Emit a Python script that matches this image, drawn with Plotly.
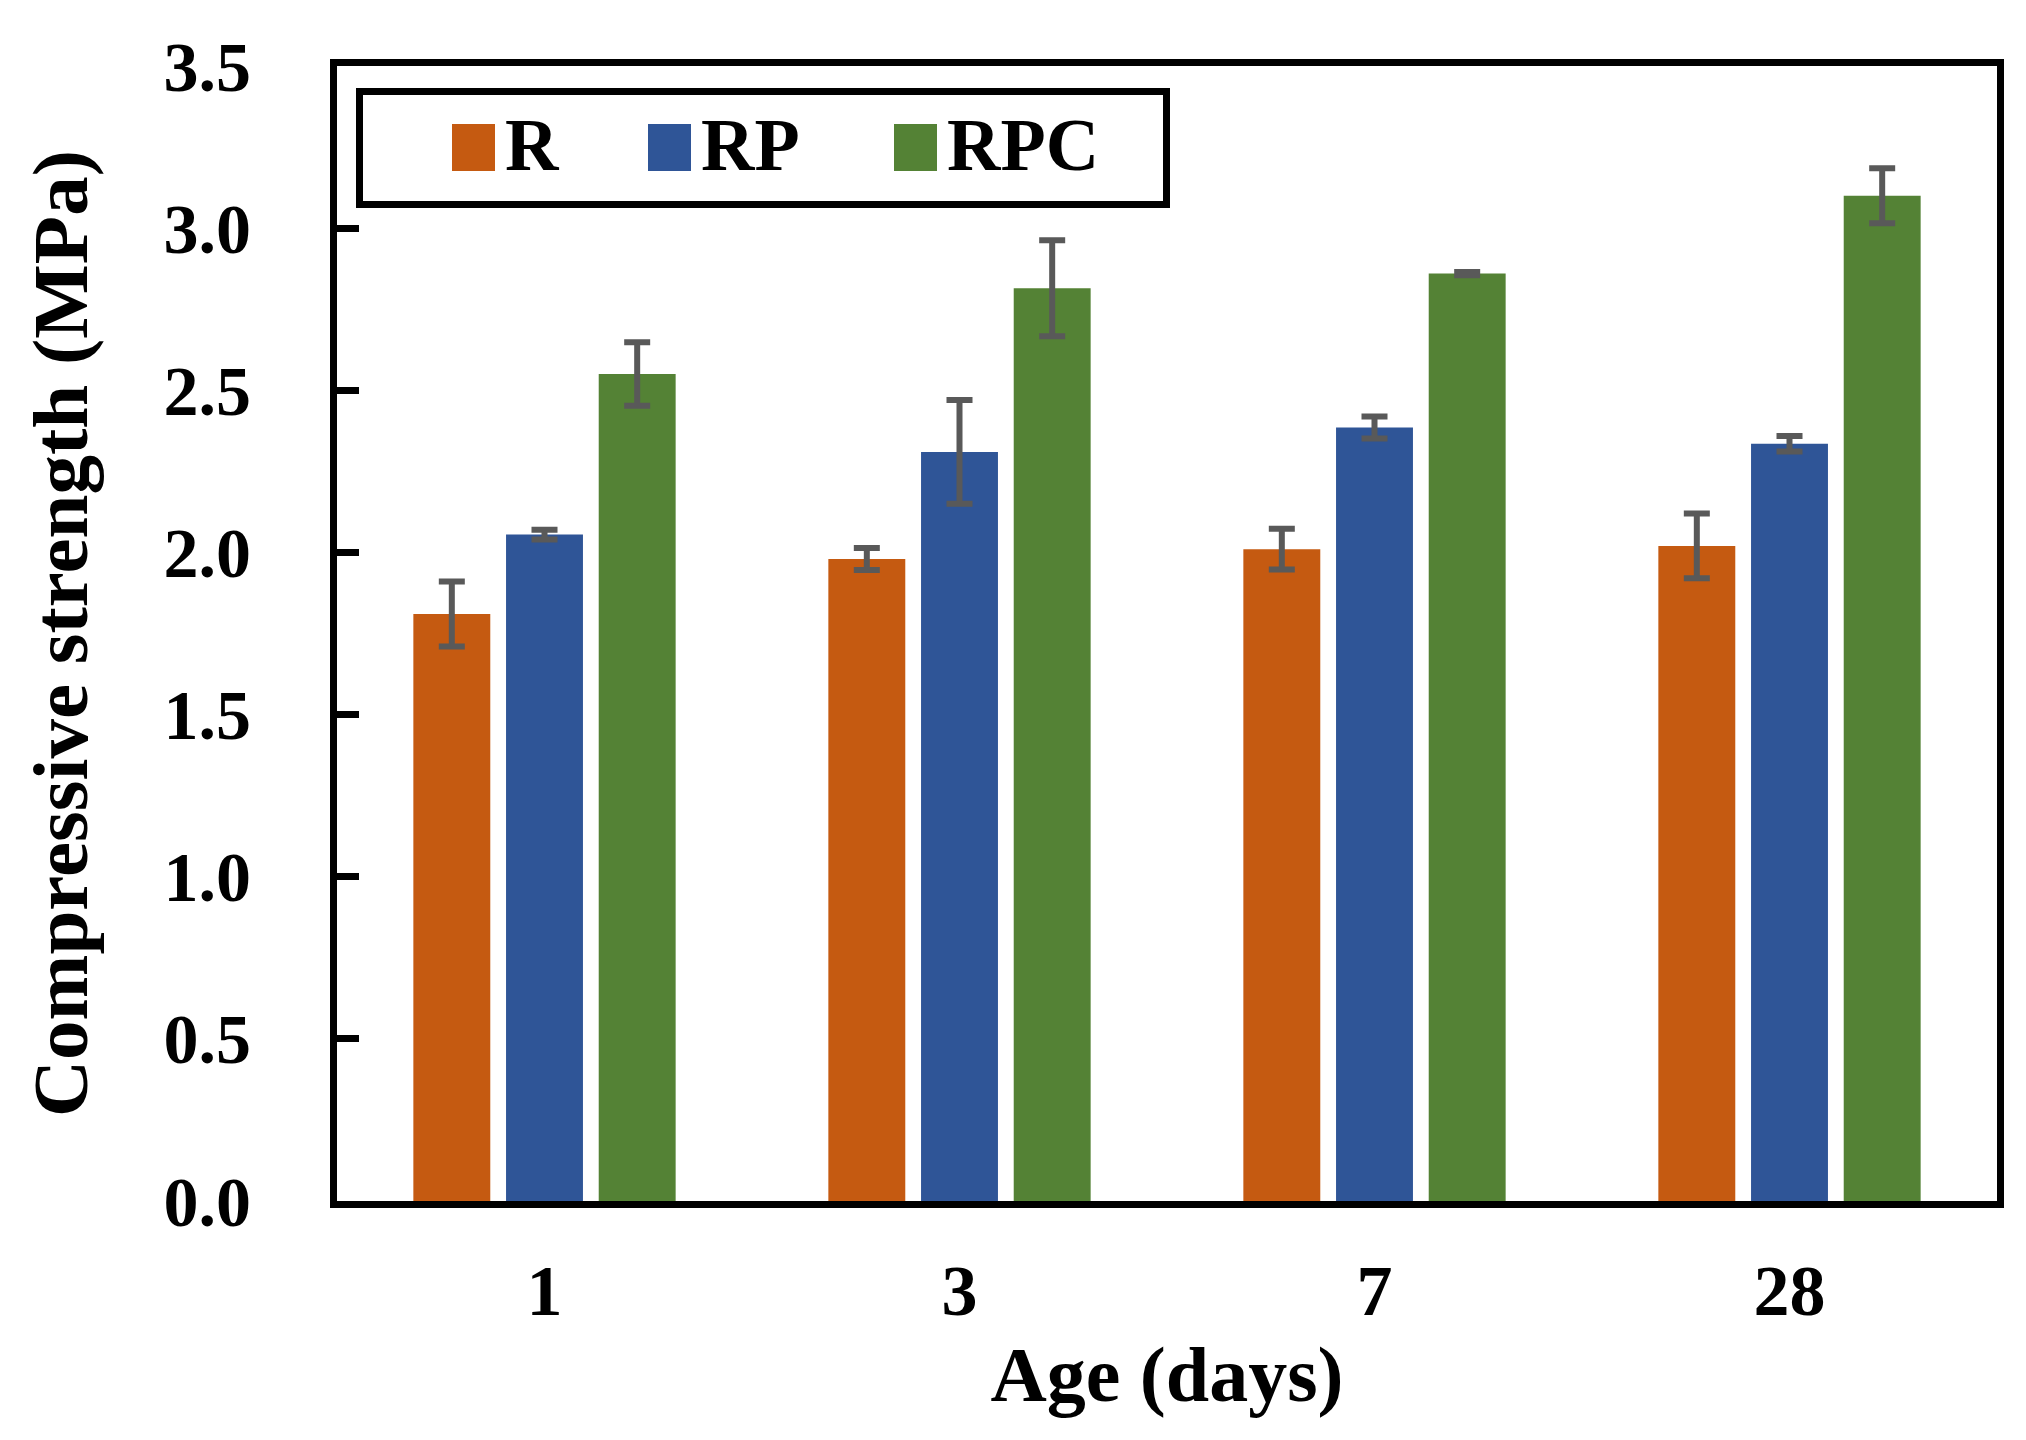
import plotly.graph_objects as go

# ---- data ----
ages = ["1", "3", "7", "28"]
series_names = ["R", "RP", "RPC"]
r_vals = [1.81, 1.98, 2.01, 2.02]
r_err = [0.10, 0.034, 0.063, 0.10]
rp_vals = [2.055, 2.31, 2.385, 2.335]
rp_err = [0.015, 0.16, 0.034, 0.024]
rpc_vals = [2.55, 2.815, 2.86, 3.10]
rpc_err = [0.098, 0.148, 0.005, 0.085]
y_ticks = [0.0, 0.5, 1.0, 1.5, 2.0, 2.5, 3.0, 3.5]

colors = ["#C55A11", "#2F5597", "#548235"]
err_color = "#595959"
FONT = "Liberation Serif"

W, H = 2026, 1440
L, R, T, B = 329, 37, 58, 247
PW, PH = W - L - R, H - T - B

fig = go.Figure()
for name, vals, errs, col in zip(series_names, [r_vals, rp_vals, rpc_vals],
                                 [r_err, rp_err, rpc_err], colors):
    fig.add_trace(go.Bar(
        x=ages, y=vals, name=name, marker_color=col, marker_line_width=0,
        error_y=dict(type="data", array=errs, visible=True, color=err_color,
                     thickness=6, width=13),
        showlegend=False,
    ))

def px_x(p):
    return (p - L) / PW

def px_y(p):
    return (H - B - p) / PH

shapes = []
annotations = []
# legend frame
shapes.append(dict(type="rect", xref="paper", yref="paper",
                   x0=px_x(351.5), x1=px_x(1158.5), y0=px_y(196.5), y1=px_y(83.5),
                   line=dict(color="black", width=7), fillcolor="white", layer="above"))
sw_left = [444, 640, 886]
for name, col, sx in zip(series_names, colors, sw_left):
    shapes.append(dict(type="rect", xref="paper", yref="paper",
                       x0=px_x(sx), x1=px_x(sx + 43), y0=px_y(163), y1=px_y(116),
                       line=dict(width=0), fillcolor=col, layer="above"))
    annotations.append(dict(xref="paper", yref="paper", x=px_x(sx + 51), y=px_y(137),
                            xanchor="left", yanchor="middle", text=name, showarrow=False,
                            font=dict(family=FONT, size=74, color="black", weight="bold")))

fig.update_layout(
    width=W, height=H,
    margin=dict(l=L, r=R, t=T, b=B, autoexpand=False),
    paper_bgcolor="white", plot_bgcolor="white",
    barmode="group", bargap=0.33, bargroupgap=0.17,
    font=dict(family=FONT, color="black"),
    shapes=shapes, annotations=annotations,
    xaxis=dict(
        showline=True, linecolor="black", linewidth=7, mirror=True,
        ticks="", showgrid=False, zeroline=False,
        tickfont=dict(family=FONT, size=72, color="black", weight="bold"),
        ticklabelstandoff=21,
        title=dict(text="<b>Age (days)</b>", standoff=18,
                   font=dict(family=FONT, size=78, color="black")),
    ),
    yaxis=dict(
        range=[0, 3.5], tickvals=y_ticks,
        ticktext=[f"{v:.1f}" for v in y_ticks],
        showline=True, linecolor="black", linewidth=7, mirror=True,
        ticks="inside", ticklen=22, tickwidth=7, tickcolor="black",
        showgrid=False, zeroline=False,
        tickfont=dict(family=FONT, size=70, color="black", weight="bold"),
        ticklabelstandoff=65,
        title=dict(text="<b>Compressive strength (MPa)</b>", standoff=52,
                   font=dict(family=FONT, size=79, color="black")),
    ),
)

fig.write_html("out.html")
